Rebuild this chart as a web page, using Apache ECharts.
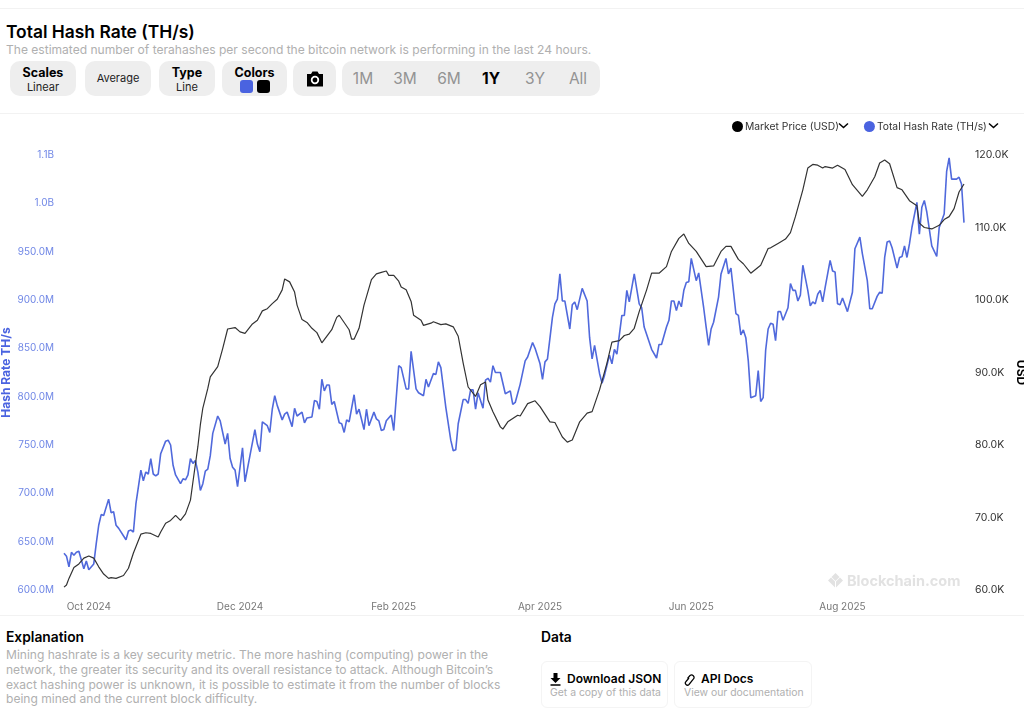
<!DOCTYPE html>
<html lang="en">
<head>
<meta charset="UTF-8">
<title>Total Hash Rate (TH/s)</title>
<script src="https://cdn.jsdelivr.net/npm/echarts@6/dist/echarts.min.js"></script>
<style>
    html, body { margin: 0; padding: 0; background: #fff; }
    body { width: 1024px; height: 727px; position: relative; overflow: hidden; font-family: Inter, sans-serif; color: #000; }
    .rule { position: absolute; left: 0; width: 1024px; height: 1px; background: #f2f2f2; }
    .abs { position: absolute; white-space: nowrap; }
    .btn { position: absolute; top: 61px; height: 35px; background: #eeeeee; border-radius: 10px; text-align: center; font-size: 11px; color: #222; }
    .btn b { display: block; font-size: 12.5px; line-height: 14px; margin-top: 5px; color: #000; }
    .btn span { display: block; line-height: 15px; }
    .range { position: absolute; top: 71px; width: 40px; margin-left: -20px; text-align: center; font-size: 15.5px; line-height: 16px; color: #939393; }
    .card { position: absolute; top: 661px; height: 47px; border: 1px solid #f4f4f4; border-radius: 6px; box-sizing: border-box; }
    #chart { position: absolute; left: 0; top: 113px; width: 1024px; height: 503px; }
</style>
</head>
<body>

<div class="rule" style="top:8px"></div>
<div class="rule" style="top:113px"></div>
<div class="rule" style="top:615px"></div>

<div class="abs" style="left:6px;top:21px;font-size:17.4px;line-height:22px;font-weight:600">Total Hash Rate (TH/s)</div>
<div class="abs" style="left:6px;top:42px;font-size:12.06px;line-height:16px;color:#b0b0b0">The estimated number of terahashes per second the bitcoin network is performing in the last 24 hours.</div>

<div class="btn" style="left:10px;width:66px"><b>Scales</b><span>Linear</span></div>
<div class="btn" style="left:85px;width:66px"><span style="line-height:35px">Average</span></div>
<div class="btn" style="left:159px;width:56px"><b>Type</b><span>Line</span></div>
<div class="btn" style="left:222px;width:65px"><b>Colors</b></div>
<div class="abs" style="left:240px;top:80px;width:13px;height:13px;border-radius:3px;background:#4a63e0"></div>
<div class="abs" style="left:257px;top:80px;width:13px;height:13px;border-radius:3px;background:#000"></div>
<div class="btn" style="left:293px;width:43px">
    <svg width="18" height="16" viewBox="0 0 18 16" style="margin-top:10px">
        <path d="M1 3h4l1.500-2.500h5L13 3h4v12.500H1z" fill="#000"/>
        <circle cx="9" cy="9" r="3.300" fill="none" stroke="#fff" stroke-width="1.800"/>
    </svg>
</div>
<div class="btn" style="left:342px;width:258px"></div>
<div class="range" style="left:363px">1M</div>
<div class="range" style="left:405px">3M</div>
<div class="range" style="left:449px">6M</div>
<div class="range" style="left:491px;color:#000;font-weight:700">1Y</div>
<div class="range" style="left:535px">3Y</div>
<div class="range" style="left:578px">All</div>

<div id="chart"></div>

<!-- legend arrows and watermark -->
<svg class="abs" style="left:838px;top:122px" width="11" height="8" viewBox="0 0 11 8"><path d="M1 1.500l4.500 4 4.500-4" fill="none" stroke="#000" stroke-width="1.500"/></svg>
<svg class="abs" style="left:988px;top:122px" width="11" height="8" viewBox="0 0 11 8"><path d="M1 1.500l4.500 4 4.500-4" fill="none" stroke="#000" stroke-width="1.500"/></svg>
<svg class="abs" style="left:828px;top:573px" width="15" height="15" viewBox="0 0 15 15"><path d="M7.500 0l4 4-4 4-4-4zM3 4.500l4 4v6l-4-4-3-3zM12 4.500l-4 4v6l4-4 3-3z" fill="#e2e2e2"/></svg>
<div class="abs" style="left:847px;top:572px;font-size:14.500px;line-height:18px;font-weight:700;color:#e2e2e2">Blockchain.com</div>

<div class="abs" style="left:6px;top:628px;font-size:13.8px;line-height:18px;font-weight:600">Explanation</div>
<div class="abs" style="left:6px;top:648px;font-size:12.05px;line-height:14.800px;color:#b0b0b0">Mining hashrate is a key security metric. The more hashing (computing) power in the<br>network, the greater its security and its overall resistance to attack. Although Bitcoin’s<br>exact hashing power is unknown, it is possible to estimate it from the number of blocks<br>being mined and the current block difficulty.</div>
<div class="abs" style="left:541px;top:628px;font-size:13.8px;line-height:18px;font-weight:600">Data</div>

<div class="card" style="left:541px;width:127px"></div>
<div class="card" style="left:674px;width:138px"></div>
<svg class="abs" style="left:550px;top:673px" width="11" height="13" viewBox="0 0 11 13"><path d="M3.500 0h4v5h3l-5 5-5-5h3zM.5 11.300h10v1.500H.5z" fill="#000"/></svg>
<div class="abs" style="left:567px;top:671px;font-size:12px;line-height:16px;font-weight:600">Download JSON</div>
<div class="abs" style="left:550px;top:686px;font-size:10.4px;line-height:14px;color:#b0b0b0">Get a copy of this data</div>
<svg class="abs" style="left:684px;top:673px" width="12" height="13" viewBox="0 0 12 13"><path d="M5 5l-3 3.500a2 2 0 0 0 3 3l4.500-5.500a2.500 2.500 0 0 0-3.500-3.500L3.500 5.500" fill="none" stroke="#000" stroke-width="1.200"/></svg>
<div class="abs" style="left:701px;top:671px;font-size:12px;line-height:16px;font-weight:600">API Docs</div>
<div class="abs" style="left:684px;top:686px;font-size:10.4px;line-height:14px;color:#b0b0b0">View our documentation</div>

<script type="text/javascript">
    // values, days are counted from startDate
    var startDate = '2024-09-21';
    var xTickDates = ['2024-10-01', '2024-12-01', '2025-02-01', '2025-04-01', '2025-06-01', '2025-08-01'];
    var monthNames = ['Jan', 'Feb', 'Mar', 'Apr', 'May', 'Jun', 'Jul', 'Aug', 'Sep', 'Oct', 'Nov', 'Dec'];
    var hashTickLabels = ['600.0M', '650.0M', '700.0M', '750.0M', '800.0M', '850.0M', '900.0M', '950.0M', '1.0B', '1.1B'];

    var hashDays = [
        0, 1, 2, 3, 4, 5, 6, 7, 8, 9, 10, 12, 13, 14, 15, 16, 18, 19, 20, 21, 22, 25, 26, 27, 28, 29, 31, 32, 33, 34,
        35, 36, 37, 38, 39, 41, 42, 43, 44, 45, 47, 48, 49, 50, 51, 52, 53, 54, 55, 56, 57, 58, 59, 60, 62, 63, 65, 66, 67, 68,
        69, 70, 72, 73, 75, 77, 78, 79, 80, 82, 83, 84, 85, 86, 88, 89, 90, 92, 93, 94, 96, 97, 98, 100, 101, 102, 103, 104, 105, 106,
        107, 108, 109, 111, 112, 113, 114, 115, 117, 118, 119, 121, 122, 123, 125, 126, 127, 128, 129, 130, 132, 133, 135, 136, 138, 139, 140, 142, 143, 145,
        146, 147, 149, 150, 151, 152, 154, 156, 157, 158, 159, 161, 162, 163, 164, 165, 166, 167, 169, 170, 171, 172, 173, 174, 176, 178, 180, 181, 182, 184,
        186, 187, 189, 190, 192, 193, 194, 195, 197, 198, 199, 200, 201, 202, 204, 205, 206, 207, 209, 211, 212, 213, 214, 216, 217, 218, 220, 221, 222, 223,
        225, 226, 227, 228, 230, 232, 233, 234, 237, 239, 240, 241, 243, 244, 245, 246, 247, 248, 249, 250, 251, 252, 253, 255, 256, 258, 259, 260, 261, 262,
        264, 265, 267, 268, 269, 271, 272, 273, 274, 275, 276, 277, 278, 279, 280, 281, 282, 283, 284, 285, 286, 287, 288, 289, 290, 292, 293, 294, 295, 296,
        297, 298, 300, 301, 302, 303, 304, 305, 306, 307, 309, 310, 311, 312, 313, 314, 316, 318, 319, 321, 322, 324, 325, 326, 328, 329, 330, 331, 332, 333,
        334, 336, 337, 338, 339, 340, 341, 342, 344, 345, 346, 347, 348, 350, 352, 353, 355, 356, 357, 358, 359, 360, 361, 362, 363
    ];
    var hashValues = [
        638, 635, 624, 639, 636, 639, 640, 631, 622, 630, 621, 627, 648, 667, 678, 677, 694, 680, 681, 667, 664, 652, 661, 662, 660, 689, 724, 713, 722, 720,
        736, 720, 718, 720, 741, 754, 755, 750, 729, 719, 710, 715, 714, 719, 736, 731, 734, 722, 703, 710, 723, 725, 739, 762, 780, 775, 751, 762, 736, 727,
        724, 707, 747, 712, 739, 766, 751, 743, 774, 770, 763, 787, 801, 791, 776, 782, 784, 769, 788, 780, 784, 773, 778, 779, 796, 795, 787, 818, 806, 812,
        812, 792, 795, 773, 772, 763, 776, 774, 802, 782, 787, 766, 787, 770, 784, 777, 775, 765, 766, 775, 781, 765, 832, 830, 808, 808, 847, 808, 804, 801,
        818, 810, 824, 823, 836, 830, 789, 755, 744, 745, 772, 797, 797, 793, 807, 807, 787, 804, 788, 817, 819, 815, 832, 825, 825, 803, 806, 792, 794, 813,
        837, 841, 856, 850, 834, 818, 836, 839, 882, 896, 901, 927, 899, 899, 870, 895, 898, 890, 912, 899, 861, 839, 853, 824, 814, 822, 843, 834, 849, 844,
        884, 884, 910, 898, 927, 896, 892, 872, 849, 840, 854, 854, 872, 879, 899, 899, 889, 899, 893, 910, 918, 919, 943, 920, 928, 892, 872, 853, 870, 877,
        903, 927, 943, 927, 933, 886, 884, 864, 869, 861, 837, 799, 800, 801, 827, 795, 799, 848, 870, 876, 875, 858, 888, 888, 879, 892, 917, 910, 910, 899,
        905, 936, 910, 894, 898, 896, 906, 910, 898, 913, 941, 930, 929, 896, 895, 902, 888, 908, 953, 965, 948, 920, 891, 891, 904, 908, 907, 944, 960, 961,
        954, 933, 944, 945, 956, 944, 958, 975, 1001, 968, 996, 1003, 991, 956, 945, 975, 989, 1033, 1047, 1025, 1025, 1025, 1027, 1020, 980
    ];

    var priceDays = [
        0, 1, 2, 4, 6, 8, 10, 12, 14, 16, 18, 19, 21, 24, 26, 28, 31, 33, 35, 38, 39, 41, 43, 45, 47, 49, 51, 52, 54, 55,
        56, 58, 59, 62, 64, 66, 69, 71, 73, 76, 78, 80, 82, 84, 86, 88, 89, 91, 93, 94, 96, 98, 100, 102, 104, 108, 110, 111, 115, 116,
        117, 119, 121, 124, 126, 128, 130, 131, 133, 135, 136, 138, 140, 141, 144, 145, 148, 149, 152, 154, 157, 159, 161, 163, 166, 168, 170, 171, 173, 176,
        177, 179, 183, 184, 187, 190, 192, 196, 198, 201, 203, 205, 208, 211, 213, 216, 219, 221, 224, 226, 228, 230, 232, 235, 237, 240, 243, 245, 248, 250,
        252, 255, 259, 262, 265, 267, 269, 272, 274, 277, 281, 284, 285, 288, 291, 293, 295, 298, 300, 302, 304, 306, 307, 310, 312, 315, 318, 322, 324, 327,
        329, 331, 333, 336, 338, 341, 344, 345, 347, 350, 353, 355, 357, 359, 361, 363
    ];
    var priceValues = [
        60.4, 60.7, 61.6, 63.1, 63.6, 64.4, 64.7, 64.4, 63.2, 62.2, 61.6, 61.7, 61.6, 62.0, 63.0, 65.1, 67.7, 67.9, 67.8, 67.3, 68.0, 69.2, 69.6, 70.3, 69.6, 70.5, 72.4, 74.9, 79.8, 82.8,
        85.1, 87.8, 89.4, 90.8, 93.3, 96.0, 96.2, 95.6, 95.4, 96.7, 97.2, 98.5, 98.8, 99.5, 100.1, 101.4, 102.9, 102.5, 101.1, 99.3, 97.3, 96.9, 96.1, 95.5, 94.1, 95.9, 97.6, 97.9, 95.9, 94.6,
        94.6, 96.1, 99.3, 102.8, 103.6, 103.8, 104.0, 103.4, 103.4, 102.6, 101.8, 101.4, 99.8, 97.9, 97.2, 96.5, 96.8, 97.0, 96.6, 96.7, 96.3, 95.0, 91.3, 88.0, 86.7, 88.3, 88.7, 86.2, 84.6, 82.5,
        82.2, 83.2, 84.1, 84.0, 85.7, 86.1, 85.3, 83.2, 83.1, 81.1, 80.4, 80.7, 83.2, 84.4, 84.6, 87.6, 91.3, 94.2, 94.4, 95.1, 95.3, 96.1, 98.4, 101.4, 103.7, 103.7, 104.6, 106.7, 108.5, 109.1,
        107.8, 106.7, 104.6, 104.7, 106.7, 107.4, 107.4, 105.6, 105.0, 103.7, 104.8, 107.1, 107.2, 107.8, 108.4, 109.3, 111.5, 115.2, 118.2, 118.7, 118.6, 118.2, 118.4, 118.2, 118.6, 118.0, 115.9, 114.3, 115.2, 117.0,
        118.9, 119.3, 118.8, 115.5, 115.2, 113.7, 113.0, 110.6, 110.0, 109.8, 110.3, 111.1, 111.5, 112.6, 114.9, 116.0
    ];

    var dayMs = 86400000;
    var startMs = Date.parse(startDate);

    function toSeries(days, values) {
        return days.map(function (d, i) { return [startMs + d * dayMs, values[i]]; });
    }

    var myChart = echarts.init(document.getElementById('chart'), null, { renderer: 'canvas' });

    var option = {
        animation: false,
        textStyle: { fontFamily: 'Inter' },
        legend: {
            data: ['Market Price (USD)', 'Total Hash Rate (TH/s)'],
            top: 8,
            left: 732,
            itemWidth: 11,
            itemHeight: 11,
            itemGap: 25,
            icon: 'circle',
            padding: 0,
            textStyle: { fontSize: 10.3, color: '#333', padding: [0, 0, 0, -3] }
        },
        grid: { left: 64, right: 60, top: 42, bottom: 26, outerBoundsMode: 'none' },
        xAxis: {
            // timestamps on a value axis, so the month ticks can be placed exactly
            type: 'value',
            min: startMs,
            max: startMs + 363 * dayMs,
            axisLine: { show: false },
            axisTick: { show: false },
            splitLine: { show: false },
            axisLabel: {
                customValues: xTickDates.map(function (d) { return Date.parse(d); }),
                margin: 12,
                fontSize: 10,
                color: '#777',
                hideOverlap: false,
                formatter: function (v) {
                    var d = new Date(v);
                    return monthNames[d.getUTCMonth()] + ' ' + d.getUTCFullYear();
                }
            }
        },
        yAxis: [
            {
                type: 'value',
                min: 600,
                max: 1050,
                interval: 50,
                position: 'left',
                name: 'Hash Rate TH/s',
                nameLocation: 'middle',
                nameGap: 52,
                nameMoveOverlap: false,
                nameTextStyle: { color: '#4a63e0', fontSize: 12, fontWeight: 'bold' },
                axisLine: { show: false },
                axisTick: { show: false },
                splitLine: { show: false },
                axisLabel: {
                    margin: 10,
                    fontSize: 10,
                    color: '#7087e6',
                    padding: [2, 0, 0, 0],
                    formatter: function (v) { return hashTickLabels[(v - 600) / 50]; }
                }
            },
            {
                type: 'value',
                min: 60,
                max: 120,
                interval: 10,
                position: 'right',
                name: 'USD',
                nameLocation: 'middle',
                nameRotate: -90,
                nameGap: 51,
                nameMoveOverlap: false,
                nameTextStyle: { color: '#000', fontSize: 12, fontWeight: 'bold' },
                axisLine: { show: false },
                axisTick: { show: false },
                splitLine: { show: false },
                axisLabel: {
                    margin: 11,
                    fontSize: 10.5,
                    color: '#333',
                    padding: [2, 0, 0, 0],
                    formatter: function (v) { return v + '.0K'; }
                }
            }
        ],
        series: [
            {
                name: 'Total Hash Rate (TH/s)',
                type: 'line',
                yAxisIndex: 0,
                showSymbol: false,
                color: '#4a63e0',
                lineStyle: { width: 1.6, color: '#5069dc' },
                data: toSeries(hashDays, hashValues)
            },
            {
                name: 'Market Price (USD)',
                type: 'line',
                yAxisIndex: 1,
                showSymbol: false,
                color: '#000',
                lineStyle: { width: 1.2, color: '#333' },
                data: toSeries(priceDays, priceValues)
            }
        ]
    };

    myChart.setOption(option);
</script>
</body>
</html>
